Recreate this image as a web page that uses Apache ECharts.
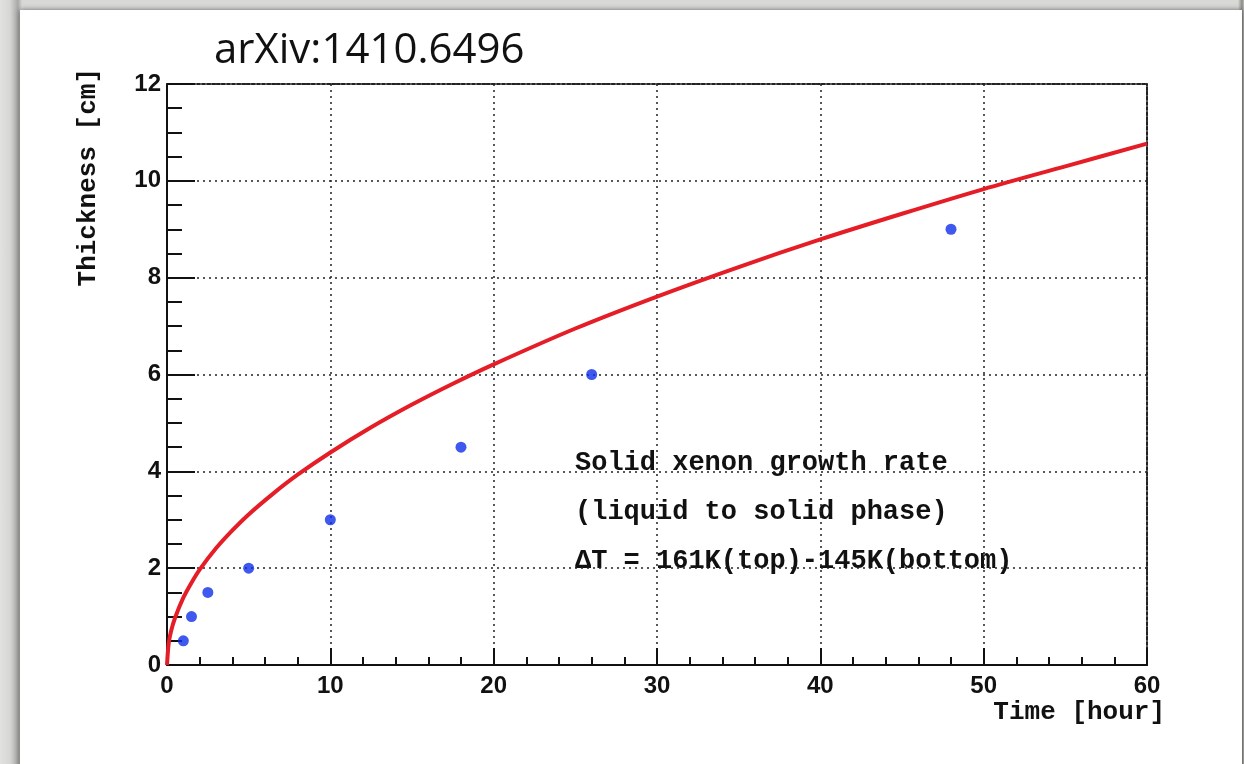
<!DOCTYPE html>
<html>
<head>
<meta charset="utf-8">
<title>Solid xenon growth rate</title>
<script src="https://cdn.jsdelivr.net/npm/echarts@6/dist/echarts.min.js"></script>
<style>
  html, body { margin: 0; padding: 0; }
  body {
    width: 1244px; height: 764px; overflow: hidden; position: relative;
    background: linear-gradient(90deg, #e2e2e0 0px, #d6d6d4 10px, #a8a8a6 18px, #d8d8d6 22px, #d8d8d6 1238px, #8a8a88 1242px, #bdbdbb 1244px);
  }
  #panel {
    position: absolute; left: 20px; top: 10px; width: 1222px; height: 770px;
    background: #ffffff; box-shadow: 0 0 5px rgba(0,0,0,0.55);
  }
  #chart { position: absolute; left: 0; top: 0; width: 1244px; height: 764px; }
</style>
</head>
<body>
<div id="panel"></div>
<div id="chart"></div>
<script>
// Measured growth of the solid xenon layer
const timeHours = [1, 1.5, 2.5, 5, 10, 18, 26, 48];
const thicknessCm = [0.5, 1, 1.5, 2, 3, 4.5, 6, 9];

// Fitted growth curve (red line)
const fitTime = [0, 0.1, 0.25, 0.5, 1, 1.5, 2, 3, 4, 5, 6.5, 8, 10, 12.5, 15, 17.5, 20, 25, 30, 35, 40, 45, 50, 55, 60];
const fitThickness = [0, 0.44, 0.70, 0.98, 1.39, 1.70, 1.97, 2.41, 2.78, 3.11, 3.54, 3.93, 4.39, 4.91, 5.38, 5.81, 6.21, 6.95, 7.61, 8.22, 8.79, 9.32, 9.83, 10.30, 10.77];

const noteLines = [
  'Solid xenon growth rate',
  '(liquid to solid phase)',
  '\u0394T = 161K(top)-145K(bottom)'
];

const monoFont = '"Courier New", "Liberation Mono", monospace';
const tickFont = '"Liberation Sans", Arial, sans-serif';

const chart = echarts.init(document.getElementById('chart'), null, { renderer: 'canvas' });

const gridDots = { show: true, lineStyle: { color: '#222', width: 1.5, type: [2, 4] } };

chart.setOption({
  backgroundColor: 'transparent',
  animation: false,
  grid: { left: 167, right: 97, top: 84, bottom: 99, containLabel: false },
  xAxis: [{
    type: 'value', min: 0, max: 60, interval: 10,
    axisLine: { show: true, onZero: false, lineStyle: { color: '#111', width: 2 } },
    axisTick: { show: true, inside: true, length: 17, lineStyle: { color: '#111', width: 2 } },
    minorTick: { show: true, splitNumber: 5, length: 8, lineStyle: { color: '#111', width: 2 } },
    axisLabel: { color: '#111', fontFamily: tickFont, fontWeight: 'bold', fontSize: 24, margin: 9 },
    splitLine: gridDots
  }, {
    type: 'value', min: 0, max: 60, interval: 10, position: 'top',
    axisLine: { show: true, onZero: false, lineStyle: { color: '#222', width: 2, type: [3, 2] } },
    axisTick: { show: false }, axisLabel: { show: false }, splitLine: { show: false }
  }],
  yAxis: [{
    type: 'value', min: 0, max: 12, interval: 2,
    axisLine: { show: true, onZero: false, lineStyle: { color: '#111', width: 2 } },
    axisTick: { show: true, inside: true, length: 28, lineStyle: { color: '#111', width: 2 } },
    minorTick: { show: true, splitNumber: 4, length: 15, lineStyle: { color: '#111', width: 2 } },
    axisLabel: { color: '#111', fontFamily: tickFont, fontWeight: 'bold', fontSize: 24, margin: 6 },
    splitLine: gridDots
  }, {
    type: 'value', min: 0, max: 12, interval: 2, position: 'right',
    axisLine: { show: true, onZero: false, lineStyle: { color: '#222', width: 2, type: [3, 2] } },
    axisTick: { show: false }, axisLabel: { show: false }, splitLine: { show: false }
  }],
  series: [{
    name: 'fit',
    type: 'line',
    data: fitTime.map((t, i) => [t, fitThickness[i]]),
    smooth: 0.3,
    showSymbol: false,
    lineStyle: { color: '#e51d27', width: 4 },
    z: 3
  }, {
    name: 'data',
    type: 'scatter',
    data: timeHours.map((t, i) => [t, thicknessCm[i]]),
    symbol: 'circle',
    symbolSize: 11,
    itemStyle: { color: '#0f2ee8' },
    z: 4
  }],
  graphic: [
    {
      type: 'text', left: 214, top: 30,
      style: { text: 'arXiv:1410.6496', font: '42px "Open Sans", "Liberation Sans", sans-serif', fill: '#111' }
    },
    {
      type: 'text', x: 88, y: 68, rotation: Math.PI / 2,
      style: { text: 'Thickness [cm]', font: 'bold 26px ' + monoFont, fill: '#111', align: 'right', verticalAlign: 'middle' }
    },
    {
      type: 'text', x: 1165, y: 712,
      style: { text: 'Time [hour]', font: 'bold 26px ' + monoFont, fill: '#111', align: 'right', verticalAlign: 'middle' }
    },
    ...noteLines.map((line, i) => ({
      type: 'text', x: 575, y: 463 + i * 49,
      style: { text: line, font: 'bold 27px ' + monoFont, fill: '#111', align: 'left', verticalAlign: 'middle' }
    }))
  ]
});
</script>
</body>
</html>
